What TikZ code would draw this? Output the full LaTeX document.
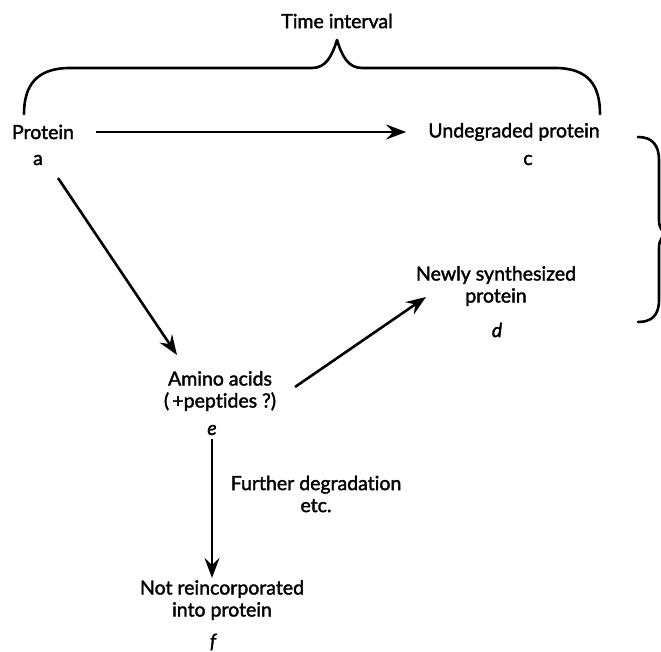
\documentclass[tikz,border=0pt]{standalone}
\usepackage{fontspec}
\setmainfont{Lato}[Ligatures={NoCommon,NoContextual},FakeBold=1.8]
\usetikzlibrary{arrows.meta,calc}
\begin{document}
\begin{tikzpicture}[x=1pt,y=-1pt,
  lbl/.style={font=\fontsize{19.5}{22}\selectfont, inner sep=0pt, align=center},
  tag/.style={font=\fontsize{19.5}{22}\selectfont, inner sep=0pt},
  conn/.style={line width=2.6pt, -{Stealth[length=20pt,width=15pt,inset=7pt]}},
  brace/.style={line width=2.6pt, line cap=round, line join=round}]
\useasboundingbox (0,0) rectangle (661,652);
\clip (0,0) rectangle (661,652);

\node[lbl] (ti) at (337,21) {Time interval};
\node[lbl] (pa) at (43,132) {Protein};
\node[tag] (la) at (38,160) {a};
\node[lbl] (pc) at (514,132) {Undegraded protein};
\node[tag] (lc) at (528,160) {c};
\node[lbl] (pd) at (496,286) {Newly synthesized\\protein};
\node[tag] (ld) at (497,330) {\itshape d};
\node[lbl] (pe) at (220,391) {Amino acids\\(\,+peptides ?)};
\node[tag] (le) at (212,430) {\itshape e};
\node[lbl] (fd) at (316,494) {Further degradation\\etc.};
\node[lbl] (pf) at (222,600) {Not reincorporated\\into protein};
\node[tag] (lf) at (213,642) {\itshape f};

\draw[conn, shorten <=22pt, shorten >=22pt] (pa.east) -- (pc.west);
\draw[conn] ($(la)+(20,18)$) -- ($(pe)+(-43,-36)$);
\draw[conn] ($(pe)+(75,-4)$) -- ($(pd)+(-70,11)$);
\draw[conn, shorten <=4pt, shorten >=2pt] (le.south) -- (le.south |- pf.north);

\draw[brace] (24,114) .. controls (24,86) and (36,68) .. (70,68) -- (312,68)
  .. controls (326,68) and (332,56) .. (337,40)
  .. controls (342,56) and (348,68) .. (362,68) -- (555,68)
  .. controls (589,68) and (600,86) .. (600,114);
\draw[brace] (638,137) .. controls (652,137) and (659,145) .. (659,160) -- (659,220)
  .. controls (659,228) and (662,232) .. (668,234)
  .. controls (662,236) and (659,240) .. (659,248) -- (659,300)
  .. controls (659,315) and (652,322) .. (638,322);
\end{tikzpicture}
\end{document}
